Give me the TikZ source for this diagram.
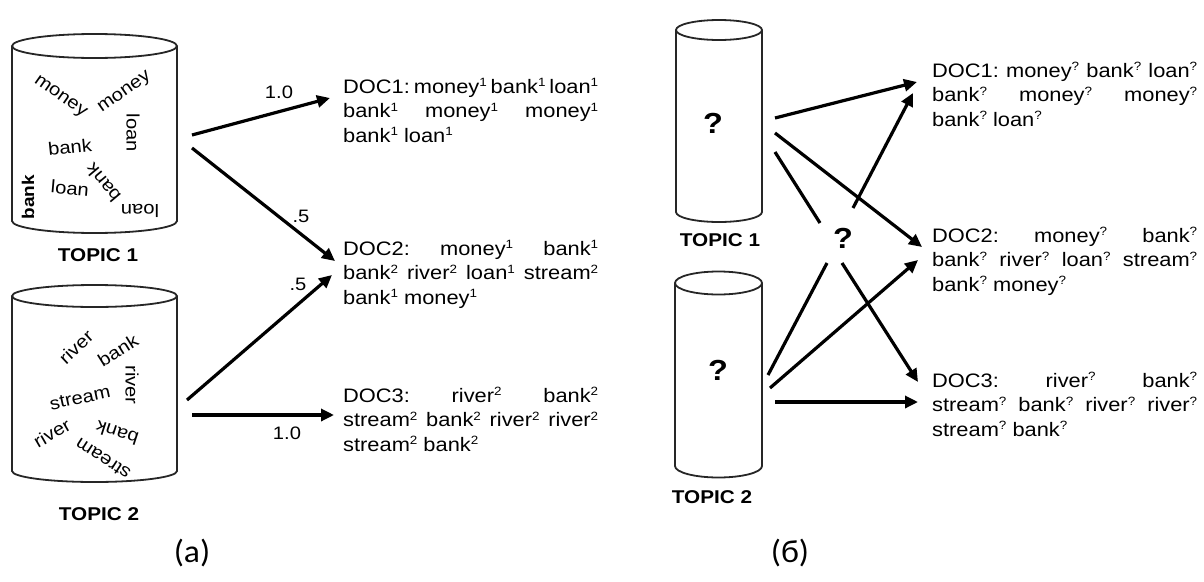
\documentclass[tikz,border=0pt]{standalone}
\usepackage{fontspec}
\setmainfont{Liberation Sans}
\newfontfamily\arialx[FakeStretch=1.12]{Liberation Sans}
\newfontfamily\calx[FakeStretch=1.05]{Carlito}
\usetikzlibrary{arrows.meta}
\newlength\dw
\newcommand\su[1]{\raisebox{6.5pt}{\fontsize{12}{12}\selectfont #1}}
\newcommand\docbox[3]{\vtop{\baselineskip=24.5pt\hbox to\dw{#1}\hbox to\dw{#2}\hbox{#3}}}
\newcommand\cylshape[6]{% name, cx, top y, bottom y, rx, ry
  \draw[cylline] ({#2-#5},#3) -- ({#2-#5},#4) arc[start angle=180,end angle=0,x radius=#5,y radius=#6] -- ({#2+#5},#3);
  \draw[cylline] (#2,#3) ellipse[x radius=#5,y radius=#6];
  \node[inner sep=0pt,minimum width={2*#5},minimum height={#4-#3}] (#1) at (#2,{(#3+#4)/2}) {};
}
\tikzset{
  cylline/.style={line width=1.8pt,draw=black!85},
  cw/.style={inner sep=0pt,font=\arialx\fontsize{18}{18}\selectfont},
  cwb/.style={inner sep=0pt,font=\arialx\bfseries\fontsize{17}{17}\selectfont},
  topic/.style={inner sep=0pt,font=\arialx\bfseries\fontsize{18.5}{18.5}\selectfont},
  qmark/.style={inner sep=0pt,font=\arialx\bfseries\fontsize{29}{29}\selectfont},
  wlabel/.style={inner sep=0pt,font=\arialx\fontsize{18}{18}\selectfont},
  doc/.style={inner sep=0pt,anchor=base west,font=\arialx\fontsize{19.5}{24.5}\selectfont},
  captext/.style={inner sep=0pt,font=\calx\fontsize{32}{32}\selectfont},
  arr/.style={line width=3.2pt,-{Triangle[length=13pt,width=12pt]}},
  ln/.style={line width=3.2pt},
}
\begin{document}
\begin{tikzpicture}[x=1pt,y=-1pt]
\useasboundingbox (0,0) rectangle (1204,581);

% ---------- panel (a) ----------
\cylshape{ca1}{94.5}{46}{221}{82.5}{12}
\cylshape{ca2}{94.5}{296}{471}{82.5}{11}
\node[topic] (ta1) at (98,255) {TOPIC 1};
\node[topic] (ta2) at (99,514) {TOPIC 2};

% words topic 1
\node[cw,rotate=-35] (w1) at (60,97) {money};
\node[cw,rotate=35] (w2) at (125,93) {money};
\node[cw,rotate=-90] (w3) at (133,133) {loan};
\node[cw,rotate=6] (w4) at (70,147) {bank};
\node[cw,rotate=-5] (w5) at (70,188) {loan};
\node[cwb,rotate=90] (w6) at (28,197) {bank};
\node[cw,rotate=130] (w7) at (103,183) {bank};
\node[cw,rotate=180] (w8) at (140,211) {loan};
% words topic 2
\node[cw,rotate=43] (v1) at (76,347) {river};
\node[cw,rotate=32] (v2) at (118,350) {bank};
\node[cw,rotate=-90] (v3) at (132,385) {river};
\node[cw,rotate=12] (v4) at (80,398) {stream};
\node[cw,rotate=30] (v5) at (52,433) {river};
\node[cw,rotate=162] (v6) at (117,433) {bank};
\node[cw,rotate=147] (v7) at (103,459) {stream};

% documents
\node[doc] (da1) at (343,93) {\setlength\dw{255pt}\docbox
  {DOC1:\hfill money\su1\hfill bank\su1\hfill loan\su1}
  {bank\su1\hfill money\su1\hfill money\su1}
  {bank\su1\ loan\su1}};
\node[doc] (da2) at (343,255) {\setlength\dw{255pt}\docbox
  {DOC2:\hfill money\su1\hfill bank\su1}
  {bank\su2\hfill river\su2\hfill loan\su1\hfill stream\su2}
  {bank\su1\ money\su1}};
\node[doc] (da3) at (343,402) {\setlength\dw{255pt}\docbox
  {DOC3:\hfill river\su2\hfill bank\su2}
  {stream\su2\hfill bank\su2\hfill river\su2\hfill river\su2}
  {stream\su2\ bank\su2}};

\coordinate (a1s) at (192,135); \coordinate (a1e) at (330,98);
\coordinate (a2s) at (192,148); \coordinate (a2e) at (335,261);
\coordinate (a3s) at (187,400); \coordinate (a3e) at (332,275);
\coordinate (a4s) at (192,415); \coordinate (a4e) at (334,415);
\draw[arr] (a1s) -- (a1e);
\draw[arr] (a2s) -- (a2e);
\draw[arr] (a3s) -- (a3e);
\draw[arr] (a4s) -- (a4e);
\node[wlabel] (l1) at (279,92) {1.0};
\node[wlabel] (l2) at (301,216) {.5};
\node[wlabel] (l3) at (298,284) {.5};
\node[wlabel] (l4) at (287,433) {1.0};

\node[captext] (capa) at (192,553) {(a)};

% ---------- panel (b) ----------
\cylshape{cb1}{719}{30}{212}{43}{10}
\cylshape{cb2}{718.5}{283}{466}{43.5}{11.5}
\node[qmark] (q1) at (713,123) {?};
\node[qmark] (q2) at (718,370) {?};
\node[qmark] (qm) at (843,238) {?};
\node[topic] (tb1) at (720,240) {TOPIC 1};
\node[topic] (tb2) at (712,497) {TOPIC 2};

\node[doc] (db1) at (932,77) {\setlength\dw{265pt}\docbox
  {DOC1:\hfill money\su?\hfill bank\su?\hfill loan\su?}
  {bank\su?\hfill money\su?\hfill money\su?}
  {bank\su?\ loan\su?}};
\node[doc] (db2) at (932,242) {\setlength\dw{265pt}\docbox
  {DOC2:\hfill money\su?\hfill bank\su?}
  {bank\su?\hfill river\su?\hfill loan\su?\hfill stream\su?}
  {bank\su?\ money\su?}};
\node[doc] (db3) at (932,387) {\setlength\dw{265pt}\docbox
  {DOC3:\hfill river\su?\hfill bank\su?}
  {stream\su?\hfill bank\su?\hfill river\su?\hfill river\su?}
  {stream\su?\ bank\su?}};

\coordinate (b1s) at (775,118); \coordinate (b1e) at (917,82);
\coordinate (b2s) at (775,133); \coordinate (b2e) at (922,247);
\coordinate (b3s) at (775,152); \coordinate (b3e) at (820,223);
\coordinate (b4s) at (853,208); \coordinate (b4e) at (913,93);
\coordinate (b5s) at (768,375); \coordinate (b5e) at (827,263);
\coordinate (b6s) at (842,263); \coordinate (b6e) at (918,382);
\coordinate (b7s) at (770,388); \coordinate (b7e) at (918,260);
\coordinate (b8s) at (775,402); \coordinate (b8e) at (918,402);
\draw[arr] (b1s) -- (b1e);
\draw[arr] (b2s) -- (b2e);
\draw[ln]  (b3s) -- (b3e);
\draw[arr] (b4s) -- (b4e);
\draw[ln]  (b5s) -- (b5e);
\draw[arr] (b6s) -- (b6e);
\draw[arr] (b7s) -- (b7e);
\draw[arr] (b8s) -- (b8e);

\node[captext] (capb) at (790,553) {(б)};
\end{tikzpicture}
\end{document}
